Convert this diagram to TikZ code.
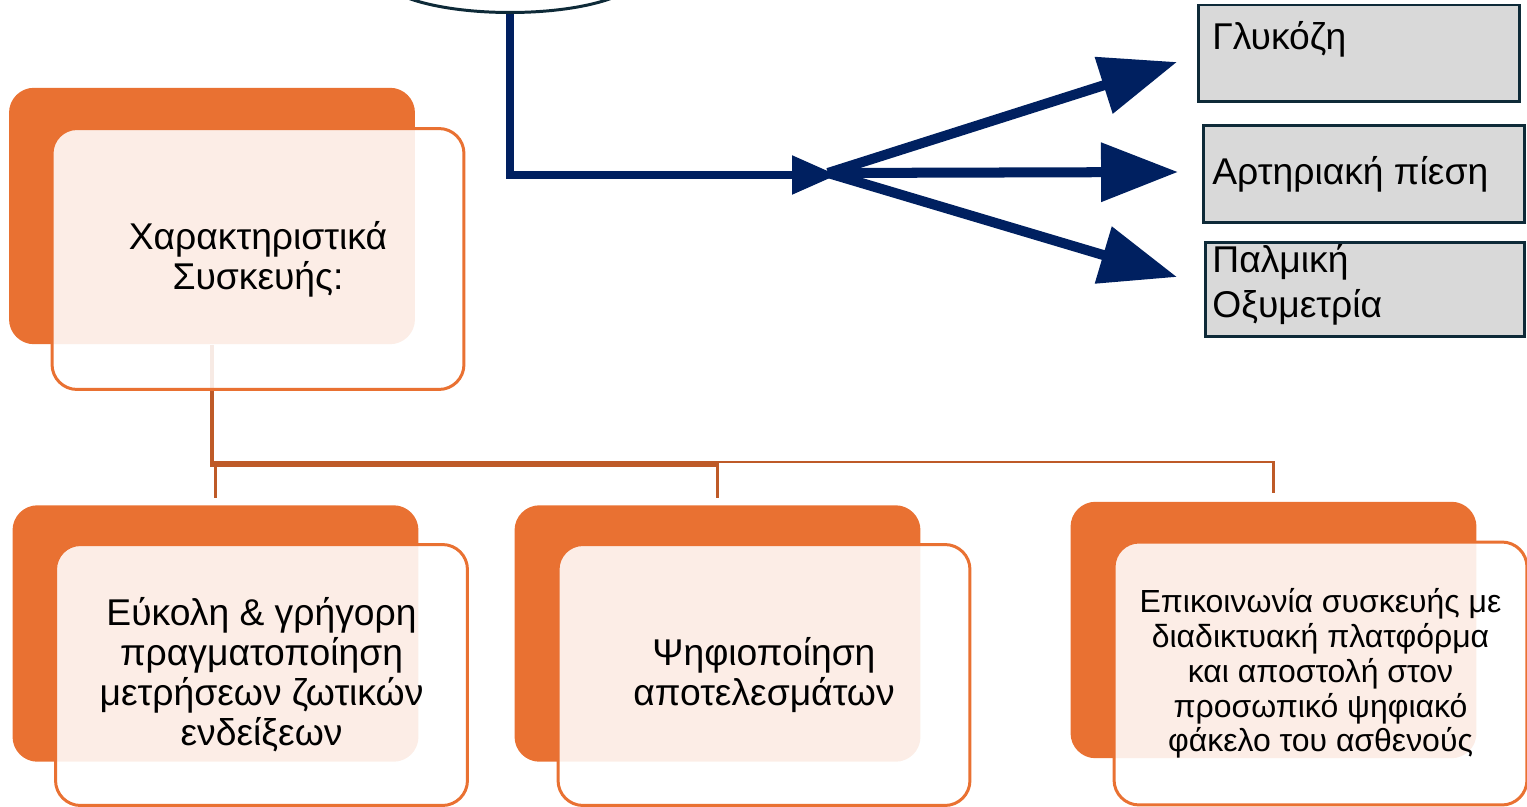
\documentclass[tikz,border=0pt]{standalone}
\usepackage{fontspec}
\setmainfont{Liberation Sans}
\usetikzlibrary{arrows.meta,shapes.geometric}
\definecolor{navy}{HTML}{002060}
\definecolor{slate}{HTML}{0E2A38}
\definecolor{boxgray}{HTML}{D9D9D9}
\definecolor{accent}{HTML}{E97132}
\definecolor{linkorange}{HTML}{BE5A28}
\begin{document}
\begin{tikzpicture}[x=0.02cm,y=-0.02cm]
				\tikzstyle{every node}+=[inner sep=0pt]
				\tikzstyle{backbox}=[fill=accent, rounded corners=0.5cm, minimum width=8.12cm, minimum height=5.13cm]
				\tikzstyle{frontbox}=[draw=accent, line width=1.7pt, fill=white, fill opacity=0.88, text opacity=1, rounded corners=0.5cm, minimum width=8.24cm, minimum height=5.22cm, align=center, font=\fontsize{21.2}{22.8}\selectfont]
				\tikzstyle{graybox}=[draw=slate, line width=1.7pt, fill=boxgray, minimum width=6.44cm, minimum height=1.94cm]
				\tikzstyle{graytext}=[align=left, font=\fontsize{21.2}{25.5}\selectfont]
				\tikzstyle{link}=[draw=linkorange, line width=1.5pt]
				\tikzstyle{fan}=[navy, line width=5.7pt, -{Triangle[length=1.54cm,width=1.14cm]}]
				\useasboundingbox (0,0) rectangle (1527,807);
				\node [ellipse, draw=slate, line width=1.7pt, fill=white, minimum width=5.12cm, minimum height=1.46cm] (device) at (510,-24) {};
				\node [graybox] (glucose) at (1359,53.5) {};
				\node [graytext, anchor=base west] (glucosetxt) at (1212,50) {Γλυκόζη};
				\node [graybox] (pressure) at (1364,174) {};
				\node [graytext, anchor=base west] (pressuretxt) at (1212,185) {Αρτηριακή πίεση};
				\node [graybox, minimum width=6.4cm, minimum height=1.9cm] (oximetry) at (1365,289.5) {};
				\node [graytext, anchor=base west] (oximetrytxt) at (1212,317) {Παλμική\\Οξυμετρία};
				\coordinate (hub) at (837,175);
				\coordinate (fork) at (828,173);
				\coordinate (glucosetip) at (1177,62);
				\coordinate (pressuretip) at (1178,172);
				\coordinate (oximetrytip) at (1177,277);
				\draw [navy, line width=4pt, -{Triangle[length=0.9cm,width=0.75cm]}] (device.south) |- (hub);
				\draw [fan] (fork) -- (glucosetip);
				\draw [fan] (fork) -- (pressuretip);
				\draw [fan] (fork) -- (oximetrytip);
				\node [backbox] (featback) at (212,216) {};
				\node [backbox] (easeback) at (215.5,633.5) {};
				\node [backbox] (digiback) at (717.5,633.5) {};
				\node [backbox] (commback) at (1273.5,630) {};
				\coordinate (busleft) at (212,465);
				\coordinate (busright) at (212,462);
				\draw [link] (featback.south) |- (busleft) -| ([yshift=0.14cm]easeback.north);
				\draw [link, line width=2.2pt] (featback.south) |- (busleft) -| ([yshift=0.14cm]digiback.north);
				\draw [link] (featback.south) |- (busright) -| ([yshift=0.16cm]commback.north);
				\node [frontbox] (feat) at (258,259) {Χαρακτηριστικά\\Συσκευής:};
				\node [frontbox] (ease) at (261.5,675) {Εύκολη \& γρήγορη\\πραγματοποίηση\\μετρήσεων ζωτικών\\ενδείξεων};
				\node [frontbox] (digi) at (764,675) {Ψηφιοποίηση\\αποτελεσμάτων};
				\node [frontbox, minimum width=8.26cm, minimum height=5.26cm, font=\fontsize{18.2}{19.8}\selectfont] (comm) at (1320.5,673.5) {Επικοινωνία συσκευής με\\διαδικτυακή πλατφόρμα\\και αποστολή στον\\προσωπικό ψηφιακό\\φάκελο του ασθενούς};
\end{tikzpicture}
\end{document}
